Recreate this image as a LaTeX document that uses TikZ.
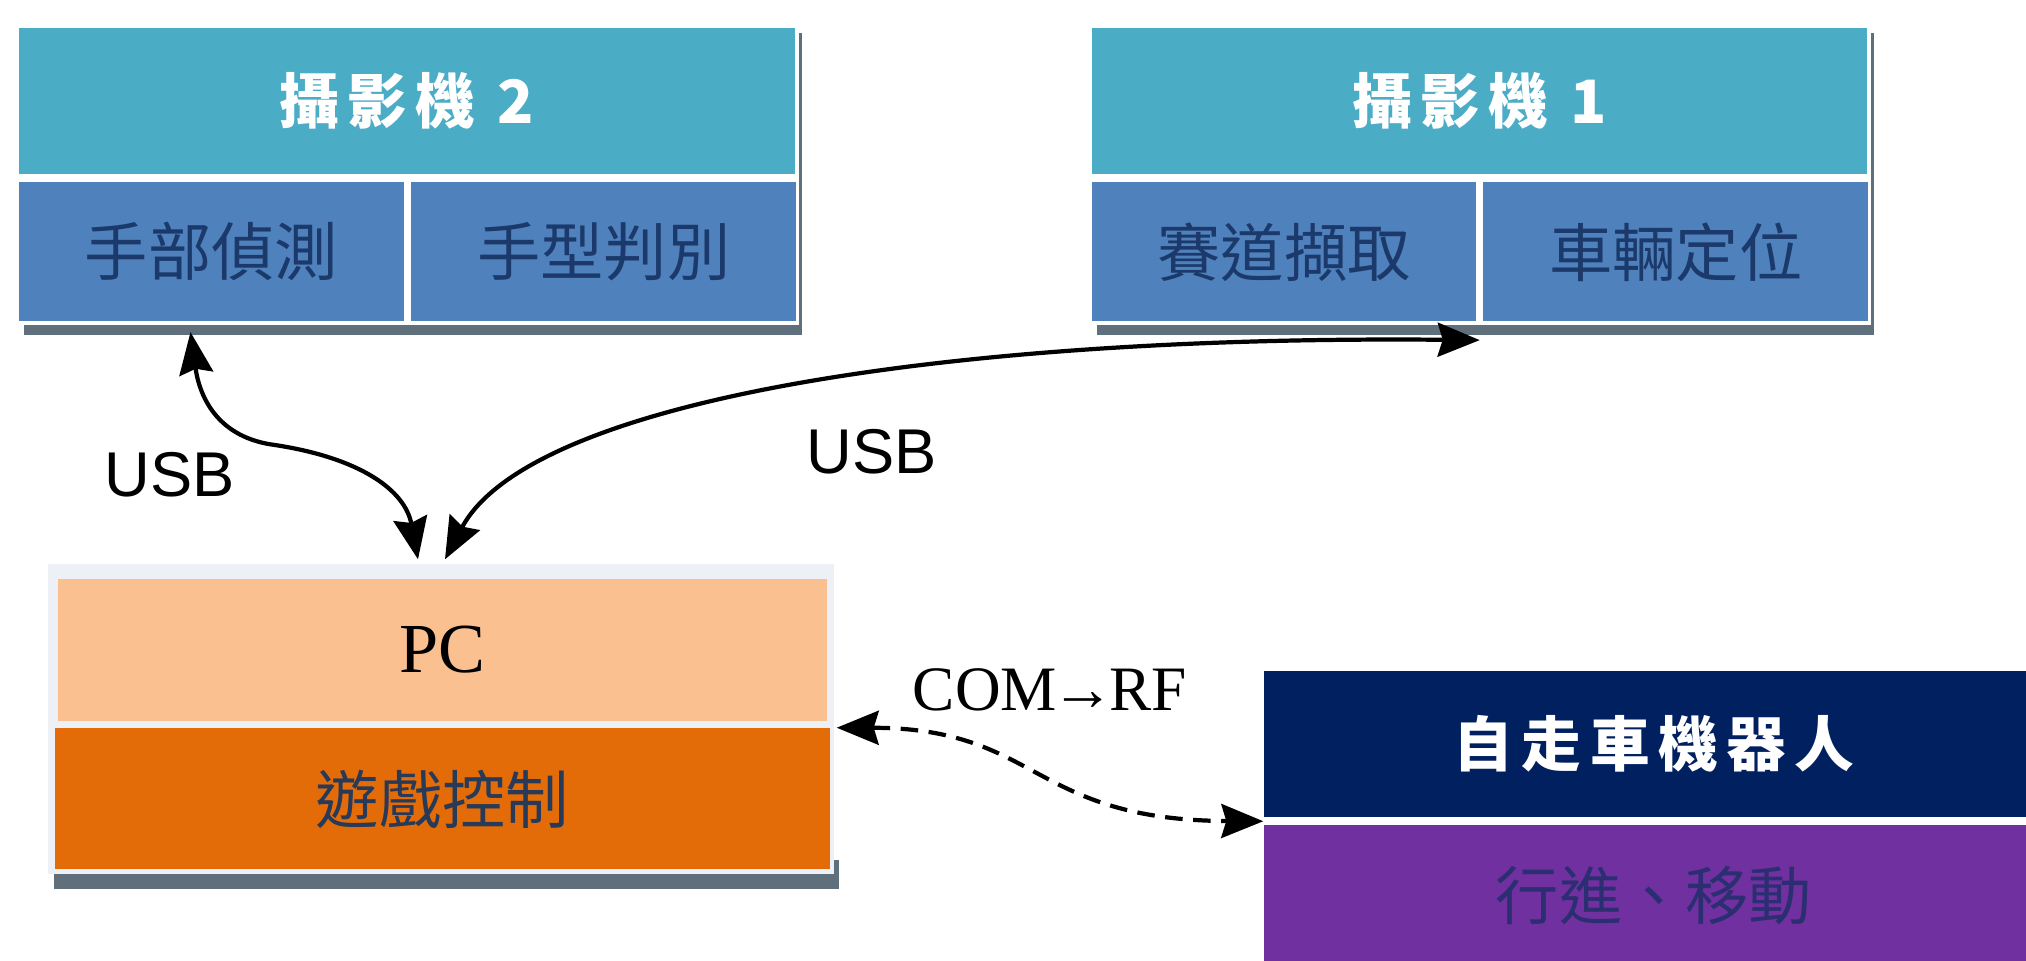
\documentclass[tikz,border=0pt]{standalone}
\usepackage{fontspec}
\setmainfont{Liberation Serif}
\newfontfamily\cjk{Noto Sans CJK TC}
\newfontfamily\cjkhead[LetterSpace=14]{Noto Sans CJK TC}
\newfontfamily\wirefont{Liberation Sans}
\usetikzlibrary{shapes,arrows,arrows.meta,positioning,calc,backgrounds}

% Office-like fill colours
\definecolor{camhead}{HTML}{4BACC6}
\definecolor{camcell}{HTML}{4F81BD}
\definecolor{celltext}{HTML}{1B3A6B}
\definecolor{pclight}{HTML}{FAC090}
\definecolor{gameorange}{HTML}{E36C09}
\definecolor{gametext}{HTML}{283A58}
\definecolor{robotnavy}{HTML}{002060}
\definecolor{robotpurple}{HTML}{7030A0}
\definecolor{movetext}{HTML}{2C2E72}
\definecolor{shadowgray}{HTML}{5F6F7C}
\definecolor{pcframe}{HTML}{EDF1F6}

\tikzset{
  headbox/.style={rectangle, fill=#1, text=white, inner sep=0pt, minimum height=1.46cm,
    font=\cjkhead\bfseries\fontsize{17}{20}\selectfont},
  cellbox/.style={rectangle, fill=#1, inner sep=0pt, minimum height=1.39cm,
    font=\cjk\fontsize{18}{22}\selectfont},
  link/.style={line width=1.2pt, {Stealth[length=0.42cm,width=0.34cm,inset=0.05cm]}-{Stealth[length=0.42cm,width=0.34cm,inset=0.05cm]}},
  wirelabel/.style={font=\wirefont\fontsize{18}{22}\selectfont}
}

\begin{document}
\begin{tikzpicture}[x=1cm, y=-1cm]
        \useasboundingbox (0,0) rectangle (20.26,9.60);

        % Camera 2 - header with two cells below
        \node[headbox=camhead, minimum width=7.76cm] (cam2) at (4.07,1.01) {攝影機 2};
        \node[cellbox=camcell, text=celltext, minimum width=3.85cm, below right=0.07cm and 0cm of cam2.south west] (hand) {手部偵測};
        \node[cellbox=camcell, text=celltext, minimum width=3.85cm, right=0.06cm of hand] (shape) {手型判別};

        % Camera 1 - header with two cells below
        \node[headbox=camhead, minimum width=7.75cm] (cam1) at (14.795,1.01) {攝影機 1};
        \node[cellbox=camcell, text=celltext, minimum width=3.84cm, below right=0.07cm and 0cm of cam1.south west] (track) {賽道擷取};
        \node[cellbox=camcell, text=celltext, minimum width=3.85cm, right=0.06cm of track] (locate) {車輛定位};

        % PC - top part and game control below
        \node[rectangle, fill=pclight, inner sep=0pt, minimum width=7.69cm, minimum height=1.42cm, font=\fontsize{20}{24}\selectfont] (pc) at (4.425,6.50) {PC};
        \node[cellbox=gameorange, text=gametext, minimum width=7.75cm, minimum height=1.41cm, below=0.06cm of pc] (game) {遊戲控制};

        % Robot - header and movement below
        \node[headbox=robotnavy, minimum width=7.8cm] (robot) at (16.54,7.44) {自走車機器人};
        \node[cellbox=robotpurple, text=movetext, minimum width=7.8cm, minimum height=1.40cm, below=0.07cm of robot] (move) {行進、移動};

        % Shadows and frames behind the blocks
        \begin{scope}[on background layer]
            \fill[shadowgray] ($(cam2.north west)+(0.06,0.06)$) rectangle ($(shape.south east)+(0.05,0.13)$);
            \fill[white] ($(cam2.north west)+(-0.02,-0.02)$) rectangle ($(shape.south east)+(0.02,0.03)$);
            \fill[shadowgray] ($(cam1.north west)+(0.06,0.06)$) rectangle ($(locate.south east)+(0.05,0.13)$);
            \fill[white] ($(cam1.north west)+(-0.02,-0.02)$) rectangle ($(locate.south east)+(0.02,0.03)$);
            \fill[shadowgray] ($(game.south west)+(0.0,-0.1)$) rectangle ($(game.south east)+(0.08,0.19)$);
            \fill[pcframe] ($(pc.north west)+(-0.09,-0.14)$) rectangle ($(game.south east)+(0.03,0.04)$);
            \fill[white] ($(robot.north west)+(0,-0.02)$) rectangle ($(move.south east)+(0,0)$);
        \end{scope}

        % USB links
        \draw[link] ([xshift=-0.21cm,yshift=-0.1cm]hand.south) .. controls (2.0,4.0) and (2.2,4.38) .. (2.75,4.45)
            .. controls (3.6,4.58) and (4.05,4.9) .. ([xshift=-0.245cm,yshift=0.19cm]pc.north);
        \draw[link] ([xshift=0.025cm,yshift=0.19cm]pc.north) .. controls (5.3,4.0) and (9.5,3.35) .. ([xshift=0.03cm,yshift=-0.18cm]track.south east);
        \node[wirelabel] (usbleft) at (1.70,4.75) {USB};
        \node[wirelabel] (usbright) at (8.72,4.52) {USB};

        % Radio link
        \draw[link, dash pattern=on 5pt off 3pt] ([xshift=0.06cm]game.north east) .. controls (10.4,7.28) and (10.3,8.2) .. ([yshift=-0.035cm]robot.south west);
        \node[font=\fontsize{18}{22}\selectfont] (comrf) at (10.5,6.90) {COM\kern-1.5pt→\kern-1.5pt RF};
    \end{tikzpicture}
\end{document}
